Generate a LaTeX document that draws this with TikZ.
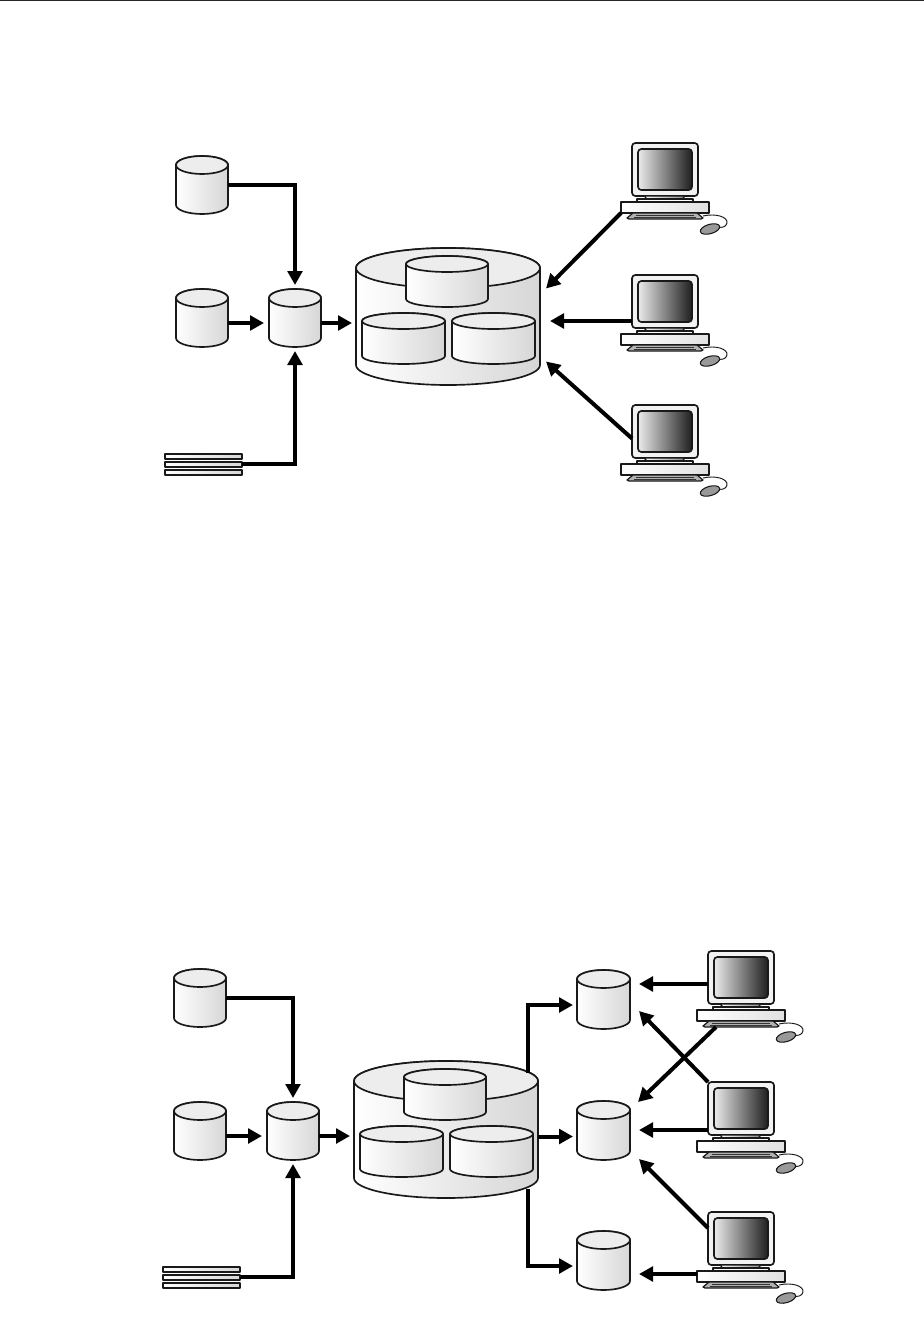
\documentclass[tikz,border=0pt]{standalone}
\usetikzlibrary{arrows.meta}

\tikzset{
  outline/.style={draw=black!90,line width=1.25pt,line join=round},
  dbbody/.style={outline,left color=white,right color=black!16},
  dbtop/.style={outline,fill=black!7},
  anchorbox/.style={inner sep=0pt,outer sep=0pt,anchor=north west},
  flow/.style={line width=3pt,-{Triangle[length=10.5pt,width=11pt]}},
}

% name, left, top, width, height, ellipse radius
\newcommand{\dbcyl}[6]{%
  \node[anchorbox,minimum width=#4*0.75pt,minimum height=#5*0.75pt] (#1) at (#2,#3) {};
  \begin{scope}[shift={(#2,#3)}]
    \draw[dbbody] (0,#6) -- (0,#5-#6)
      arc[start angle=180,end angle=360,x radius=#4/2*0.75pt,y radius=#6*0.75pt]
      -- (#4,#6)
      arc[start angle=0,end angle=180,x radius=#4/2*0.75pt,y radius=#6*0.75pt] -- cycle;
    \draw[dbtop] (#4/2,#6) ellipse[x radius=#4/2*0.75pt,y radius=#6*0.75pt];
  \end{scope}}

% name, left, top
\newcommand{\bigstore}[3]{%
  \dbcyl{#1}{#2}{#3}{184}{137}{20}
  \begin{scope}[shift={(#2,#3)}]
    \dbcyl{#1top}{50}{8}{82}{51}{8}
    \dbcyl{#1left}{6}{65}{83}{51}{8}
    \dbcyl{#1right}{96}{65}{83}{51}{8}
  \end{scope}}

% name, left, top
\newcommand{\flatfile}[3]{%
  \node[anchorbox,minimum width=78*0.75pt,minimum height=6*0.75pt] (#1) at (#2,#3+8) {};
  \begin{scope}[shift={(#2,#3)}]
    \foreach \yy in {0,8,16}
      \draw[dbbody,line width=1.5pt] (0.5,\yy+0.5) rectangle (77.5,\yy+5.5);
  \end{scope}}

% name, monitor left, monitor top
\newcommand{\workstn}[3]{%
  \node[anchorbox,minimum width=66*0.75pt,minimum height=53*0.75pt] (#1) at (#2,#3) {};
  \node[anchorbox,minimum width=88*0.75pt,minimum height=11*0.75pt] (#1base) at (#2-11,#3+59) {};
  \node[anchorbox,minimum width=76*0.75pt,minimum height=6*0.75pt] (#1kbd) at (#2-5,#3+70) {};
  \begin{scope}[shift={(#2,#3)}]
    \draw[outline,fill=white!95!black,rounded corners=2.5pt] (0,0) rectangle (66,53);
    \draw[outline,left color=black!8,right color=black!88,rounded corners=2.5pt] (6,6) rectangle (60,47);
    \draw[outline,line width=0.8pt,left color=white,right color=black!45] (12,53) -- (53,53) -- (50,56) -- (15,56) -- cycle;
    \draw[outline,line width=0.8pt,fill=white] (5,56) rectangle (61,59);
    \draw[outline,left color=white,right color=black!12] (-11,59) rectangle (77,70);
    \draw[outline,line width=0.9pt,fill=black!30] (1,70) -- (65,70) -- (71,75) -- (69,76) -- (-3,76) -- (-5,75) -- cycle;
    \draw[black!80,line width=0.4pt] (4,72) -- (62,72) (2,74) -- (64,74);
    \draw[black!90,line width=0.7pt] (71,73) .. controls (84,70) and (96,74) .. (95,80) .. controls (94,84) and (90,85) .. (86,84);
    \draw[outline,line width=0.8pt,fill=black!40,rotate around={16:(78,86)}] (78,86) ellipse[x radius=7.5pt,y radius=3.5pt];
  \end{scope}}

\begin{document}
\begin{tikzpicture}[x=0.75pt,y=-0.75pt]
\useasboundingbox (0,0) rectangle (924,1317);
\draw[line width=0.75pt,black!85] (0,0.5) -- (924,0.5);

% upper picture
\dbcyl{srcone}{176}{156}{52}{58}{9}
\dbcyl{srctwo}{176}{289}{52}{58}{9}
\dbcyl{stage}{269}{289}{52}{58}{9}
\flatfile{flat}{164}{453}
\bigstore{store}{356}{248}
\workstn{pcone}{632}{143}
\workstn{pctwo}{632}{275}
\workstn{pcthree}{632}{405}

\draw[flow,shorten >=3pt] (srcone.east) -| (stage.north);
\draw[flow] ([yshift=-3.75pt]srctwo.east) -- ([shift={(-5,5)}]stage.west);
\draw[flow] ([yshift=-3.75pt]stage.east) -- ([shift={(-4,6.5)}]store.west);
\draw[flow,shorten >=3pt] (flat.east) -| (stage.south);
\draw[flow] (pconebase.south west) -- ([shift={(6,-28)}]store.east);
\draw[flow] ([shift={(0,46)}]pctwo.north west) -- ([shift={(10,4.5)}]store.east);
\draw[flow] ([shift={(0,7)}]pcthree.west) -- ([shift={(6,45)}]store.east);

% lower picture
\dbcyl{srcthree}{174}{969}{52}{58}{9}
\dbcyl{srcfour}{174}{1102}{52}{58}{9}
\dbcyl{stagetwo}{267}{1102}{52}{58}{9}
\flatfile{flattwo}{162}{1266}
\bigstore{hub}{354}{1061}
\dbcyl{martone}{577}{970}{53}{59}{9}
\dbcyl{marttwo}{577}{1101}{53}{59}{9}
\dbcyl{martthree}{577}{1231}{53}{59}{9}
\workstn{pcfour}{708}{951}
\workstn{pcfive}{708}{1082}
\workstn{pcsix}{708}{1212}

\draw[flow,shorten >=3pt] (srcthree.east) -| (stagetwo.north);
\draw[flow] ([yshift=-3.75pt]srcfour.east) -- ([shift={(-5,5)}]stagetwo.west);
\draw[flow] ([yshift=-3.75pt]stagetwo.east) -- ([shift={(-4,6.5)}]hub.west);
\draw[flow,shorten >=3pt] (flattwo.east) -| (stagetwo.south);
\draw[flow] ([shift={(-10,12)}]hub.north east) |- ([shift={(-4,5.5)}]martone.west);
\draw[flow] ([shift={(0,7)}]hub.east) -- ([shift={(-4,6)}]marttwo.west);
\draw[flow] ([shift={(-10,-9)}]hub.south east) |- ([shift={(-4,5.5)}]martthree.west);
\draw[flow] ([shift={(0,6.5)}]pcfour.west) -- ([shift={(9,-15.5)}]martone.east);
\draw[flow] ([shift={(13,0)}]pcfourkbd.south west) -- ([shift={(8,1)}]marttwo.north east);
\draw[flow] (pcfive.north west) -- ([shift={(9,11.5)}]martone.east);
\draw[flow] ([shift={(0,21.5)}]pcfive.west) -- ([shift={(9,-0.5)}]marttwo.east);
\draw[flow] ([shift={(0,-10.5)}]pcsix.west) -- ([shift={(9,-1)}]marttwo.south east);
\draw[flow] ([shift={(-11,35.5)}]pcsix.west) -- ([shift={(9,13.5)}]martthree.east);
\end{tikzpicture}
\end{document}
